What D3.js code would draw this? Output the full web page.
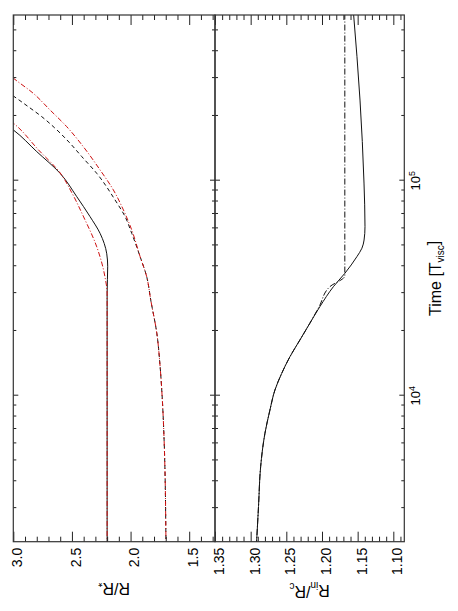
<!DOCTYPE html>
<html>
<head>
<meta charset="utf-8">
<script src="https://cdn.jsdelivr.net/npm/d3@7"></script>
<style>
  body { margin: 0; background: #fff; }
  text { font-family: "Liberation Sans", Arial, sans-serif; fill: #000; }
</style>
</head>
<body>
<svg width="458" height="611"></svg>
<script>
// ---- data (time in T_visc) ----
// upper panel: R / R*
var tSolid = [2000, 10000, 30000, 40000, 45700, 56900, 68100, 84300, 108100, 136500, 172200, 185000];
var rSolid = [2.20, 2.20, 2.20, 2.195, 2.203, 2.26, 2.346, 2.459, 2.60, 2.80, 3.0, 3.08];

var tRedIn = [2000, 10000, 30000, 35600, 49200, 67800, 87700, 108600, 139000, 185300, 200000];
var rRedIn = [2.20, 2.20, 2.20, 2.218, 2.288, 2.40, 2.50, 2.60, 2.785, 3.0, 3.08];

var tDashed = [2000, 6220, 9550, 13650, 19500, 27860, 35700, 44400, 56900, 68100, 81300, 108100, 129400, 149300, 175400, 198600, 220800, 247700, 265000];
var rDashed = [1.698, 1.714, 1.729, 1.748, 1.776, 1.828, 1.862, 1.919, 1.990, 2.047, 2.132, 2.288, 2.416, 2.516, 2.644, 2.758, 2.872, 3.0, 3.08];

var tRedOut = [2000, 6220, 9550, 13650, 19500, 27860, 35700, 44400, 59000, 73100, 90600, 112200, 143900, 178200, 213300, 254700, 300000, 320000];
var rRedOut = [1.698, 1.714, 1.729, 1.748, 1.776, 1.828, 1.862, 1.919, 1.99, 2.061, 2.147, 2.26, 2.403, 2.544, 2.687, 2.829, 3.0, 3.06];

// lower panel: R_in / R_c
var tInSolid = [2000, 3050, 4680, 6680, 8570, 10620, 12700, 15170, 18150, 21730, 25940, 32140, 37070, 44360, 48530, 52970, 61090, 97500, 237100, 600000];
var rInSolid = [1.292, 1.289, 1.286, 1.280, 1.273, 1.266, 1.2565, 1.245, 1.231, 1.217, 1.203, 1.184, 1.168, 1.151, 1.144, 1.141, 1.1397, 1.1411, 1.1467, 1.1558];

var tInDash = [2000, 3050, 4680, 6680, 8570, 10620, 12700, 15170, 18150, 21730, 25940, 32140, 36100, 600000];
var rInDash = [1.292, 1.289, 1.286, 1.280, 1.273, 1.266, 1.2565, 1.245, 1.231, 1.217, 1.204, 1.189, 1.168, 1.168];

// ticks
var rTopMajor = [3.0, 2.5, 2.0, 1.5];
var rTopMinor = [2.9, 2.8, 2.7, 2.6, 2.4, 2.3, 2.2, 2.1, 1.9, 1.8, 1.7, 1.6, 1.4, 1.3];
var rBotMajor = [1.35, 1.30, 1.25, 1.20, 1.15, 1.10];
var rBotMinor = d3.range(109, 136).filter(function (d) { return d % 5 != 0; }).map(function (d) { return d / 100; });
var tMajor = [1e4, 1e5];
var tMinor = [3000, 4000, 5000, 6000, 7000, 8000, 9000, 20000, 30000, 40000, 50000, 60000, 70000, 80000, 90000, 200000, 300000, 400000, 500000];

// ---- layout: drawn in landscape, then turned 90 deg counter-clockwise ----
var svg = d3.select("svg");
var W = 526.7, H = 391, split = 201.7;
var g = svg.append("g").attr("transform", "translate(13.3,541.7) rotate(-90)");

var x = d3.scaleLog().domain([2094, 589600]).range([0, W]);
var yTop = d3.scaleLinear().domain([3.0, 1.28]).range([0, split]);
var yBot = d3.scaleLinear().domain([1.35, 1.0846]).range([split, H]);

var red = "#cc1010";

function zip(ts, rs) { return ts.map(function (t, i) { return [t, rs[i]]; }); }

var defs = svg.append("defs");
defs.append("clipPath").attr("id", "clipTop").append("rect")
    .attr("x", 0).attr("y", 0).attr("width", W).attr("height", split);
defs.append("clipPath").attr("id", "clipBot").append("rect")
    .attr("x", 0).attr("y", split).attr("width", W).attr("height", H - split);

function drawLine(data, yScale, clip, color, dash) {
    var line = d3.line()
        .x(function (d) { return x(d[0]); })
        .y(function (d) { return yScale(d[1]); })
        .curve(d3.curveMonotoneX);
    g.append("path")
        .datum(data)
        .attr("clip-path", "url(#" + clip + ")")
        .attr("fill", "none")
        .attr("stroke", color)
        .attr("stroke-width", 1)
        .attr("stroke-dasharray", dash)
        .attr("d", line);
}

drawLine(zip(tSolid, rSolid), yTop, "clipTop", "#111", null);
drawLine(zip(tDashed, rDashed), yTop, "clipTop", "#111", "4,3");
drawLine(zip(tRedIn, rRedIn), yTop, "clipTop", red, "5,2,1,2");
drawLine(zip(tRedOut, rRedOut), yTop, "clipTop", red, "5,2,1,2");

drawLine(zip(tInSolid, rInSolid), yBot, "clipBot", "#111", null);
drawLine(zip(tInDash, rInDash), yBot, "clipBot", "#111", "6,2,1,2");

// ---- axes ----
function noDomain(sel) { sel.select(".domain").remove(); sel.selectAll("line").attr("stroke", "#222"); }

// R ticks (left = bottom of picture, right = top of picture)
g.append("g").call(d3.axisLeft(yTop).tickValues(rTopMajor).tickSize(-10).tickPadding(6).tickFormat(d3.format(".1f")))
    .call(noDomain).attr("font-size", 14).attr("font-family", null);
g.append("g").call(d3.axisLeft(yTop).tickValues(rTopMinor).tickSize(-5).tickFormat("")).call(noDomain);
g.append("g").attr("transform", "translate(" + W + ",0)")
    .call(d3.axisRight(yTop).tickValues(rTopMajor).tickSize(-10).tickFormat("")).call(noDomain);
g.append("g").attr("transform", "translate(" + W + ",0)")
    .call(d3.axisRight(yTop).tickValues(rTopMinor).tickSize(-5).tickFormat("")).call(noDomain);

g.append("g").call(d3.axisLeft(yBot).tickValues(rBotMajor).tickSize(-10).tickPadding(6).tickFormat(d3.format(".2f")))
    .call(noDomain).attr("font-size", 14).attr("font-family", null);
g.append("g").call(d3.axisLeft(yBot).tickValues(rBotMinor).tickSize(-5).tickFormat("")).call(noDomain);
g.append("g").attr("transform", "translate(" + W + ",0)")
    .call(d3.axisRight(yBot).tickValues(rBotMajor).tickSize(-10).tickFormat("")).call(noDomain);
g.append("g").attr("transform", "translate(" + W + ",0)")
    .call(d3.axisRight(yBot).tickValues(rBotMinor).tickSize(-5).tickFormat("")).call(noDomain);

g.selectAll(".tick text").attr("dy", "0.6em");

// time ticks on every horizontal edge, pointing inwards
function timeTicks(y0, up) {
    var mk = up ? d3.axisBottom : d3.axisTop;
    g.append("g").attr("transform", "translate(0," + y0 + ")")
        .call(mk(x).tickValues(tMajor).tickSize(-5).tickFormat("")).call(noDomain);
    g.append("g").attr("transform", "translate(0," + y0 + ")")
        .call(mk(x).tickValues(tMinor).tickSize(-3).tickFormat("")).call(noDomain);
}
timeTicks(0, false);
timeTicks(split, true);
timeTicks(split, false);
timeTicks(H, true);

// time tick labels 10^n
g.selectAll(".tlabel").data(tMajor).enter().append("text")
    .attr("class", "tlabel")
    .attr("x", function (d) { return x(d); })
    .attr("y", H + 16)
    .attr("text-anchor", "middle")
    .attr("font-size", 13)
    .each(function (d) {
        var t = d3.select(this);
        t.append("tspan").text("10");
        t.append("tspan").attr("dy", "-0.55em").attr("font-size", 9).text(Math.round(Math.log10(d)));
    });

// frames
g.append("rect").attr("x", 0).attr("y", 0).attr("width", W).attr("height", split)
    .attr("fill", "none").attr("stroke", "#333").attr("stroke-width", 1.2);
g.append("rect").attr("x", 0).attr("y", split).attr("width", W).attr("height", H - split)
    .attr("fill", "none").attr("stroke", "#333").attr("stroke-width", 1.2);

// axis titles
var t1 = g.append("text")
    .attr("transform", "translate(-41," + (split / 2) + ") rotate(-90)")
    .attr("text-anchor", "middle").attr("font-size", 16);
t1.append("tspan").text("R/R");
t1.append("tspan").attr("dy", "0.3em").attr("font-size", 11).text("*");

var t2 = g.append("text")
    .attr("transform", "translate(-43," + ((split + H) / 2) + ") rotate(-90)")
    .attr("text-anchor", "middle").attr("font-size", 16);
t2.append("tspan").text("R");
t2.append("tspan").attr("dy", "0.3em").attr("font-size", 10).text("in");
t2.append("tspan").attr("dy", "-0.3em").text("/R");
t2.append("tspan").attr("dy", "0.3em").attr("font-size", 10).text("c");

var t3 = g.append("text")
    .attr("x", W / 2).attr("y", H + 37)
    .attr("text-anchor", "middle").attr("font-size", 16);
t3.append("tspan").text("Time [T");
t3.append("tspan").attr("dy", "0.3em").attr("font-size", 10).text("visc");
t3.append("tspan").attr("dy", "-0.3em").text("]");
</script>
</body>
</html>
